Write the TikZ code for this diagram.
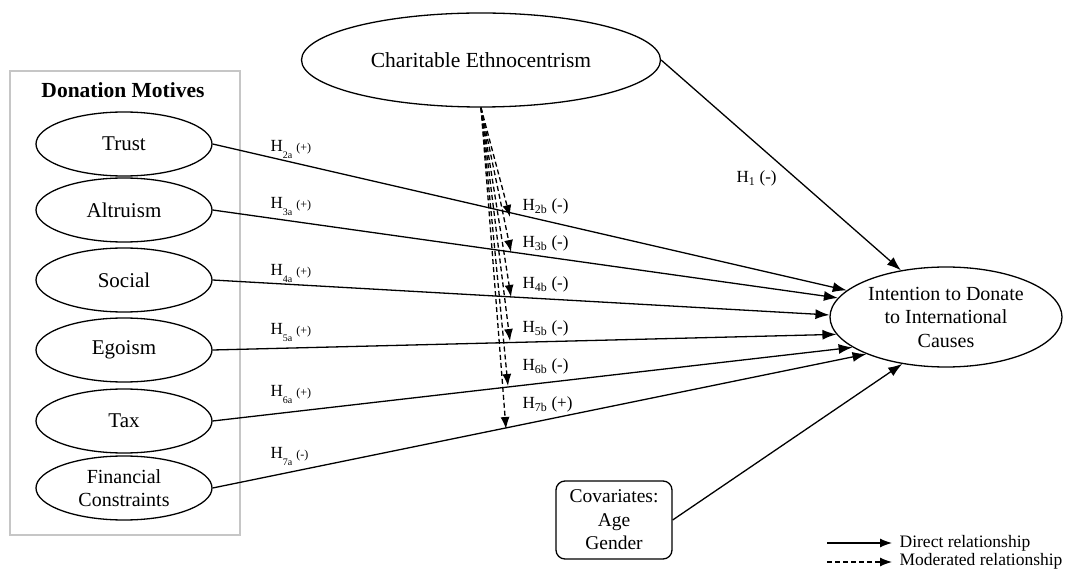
\documentclass[tikz,border=0pt]{standalone}
\usepackage{fontspec}
\setmainfont{Liberation Serif}
\usetikzlibrary{shapes.geometric,arrows.meta}

\newcommand\hypa[2]{H\raisebox{-7pt}{\fontsize{10}{10}\selectfont #1}\hspace{4pt}{\fontsize{12}{12}\selectfont (#2)}}
\newcommand\hypb[2]{H\textsubscript{#1} (#2)}

\begin{document}
\begin{tikzpicture}[x=1pt,y=-1pt,>={Latex[length=14pt,width=10pt]},line width=1.3pt,
  font=\fontsize{21}{24}\selectfont,
  motive/.style={draw,ellipse,minimum width=176pt,minimum height=64pt,inner sep=0pt},
  hyp/.style={anchor=base west,inner sep=0pt,font=\fontsize{17}{17}\selectfont},
  legend/.style={anchor=west,inner sep=0pt,font=\fontsize{17.5}{20}\selectfont}]

\useasboundingbox (0,0) rectangle (1069,569);

% donation motives
\draw[gray!45,line width=1.3pt] (10,71) rectangle (240,535);
\node[font=\fontsize{21.5}{24}\selectfont\bfseries] (title) at (123,90) {Donation Motives};

\node[motive] (trust) at (124,144) {Trust};
\node[motive] (altruism) at (124,210) {Altruism};
\node[motive] (social) at (124,280) {Social};
\node[motive] (egoism) at (124,350) {Egoism};
\node[motive] (tax) at (124,421) {Tax};
\node[motive,align=center,font=\fontsize{20}{23}\selectfont] (finance) at (124,488) {Financial\\Constraints};

\node[draw,ellipse,minimum width=359pt,minimum height=94pt,inner sep=0pt,font=\fontsize{21.5}{24}\selectfont] (ethno) at (481,60) {Charitable Ethnocentrism};
\node[draw,ellipse,minimum width=232pt,minimum height=100pt,inner sep=0pt,align=center,font=\fontsize{20}{23.5}\selectfont] (intent) at (946,317) {Intention to Donate\\to International\\Causes};
\node[draw,rounded corners=9pt,minimum width=116pt,minimum height=78pt,align=center,font=\fontsize{19.5}{23.5}\selectfont] (covar) at (614,520) {Covariates:\\Age\\Gender};

% direct paths
\draw[->] (ethno.east) -- (intent.134);
\draw[->] (trust.east) -- (intent.165);
\draw[->] (altruism.east) -- (intent.170);
\draw[->] (social.east) -- (intent.179.5);
\draw[->] (egoism.east) -- (intent.189);
\draw[->] (tax.east) -- (intent.198);
\draw[->] (finance.east) -- (intent.205.5);
\draw[->] (covar.east) -- (intent.227);

% moderated paths
\coordinate (m2) at (510,217);
\coordinate (m3) at (511,252);
\coordinate (m4) at (511,297);
\coordinate (m5) at (510,341);
\coordinate (m6) at (508,386);
\coordinate (m7) at (506,429);
\foreach \m in {m2,m3,m4,m5,m6,m7}
  \draw[->,>={Latex[length=12pt,width=9pt]},dash pattern=on 5pt off 3pt] (ethno.south) -- (\m);

% labels
\node[hyp] (h1) at (736,183) {\hypb{1}{-}};
\node[hyp] (h2a) at (270,152) {\hypa{2a}{+}};
\node[hyp] (h3a) at (270,209) {\hypa{3a}{+}};
\node[hyp] (h4a) at (270,276) {\hypa{4a}{+}};
\node[hyp] (h5a) at (270,335) {\hypa{5a}{+}};
\node[hyp] (h6a) at (270,396) {\hypa{6a}{+}};
\node[hyp] (h7a) at (270,458) {\hypa{7a}{-}};
\node[hyp] (h2b) at (522,211) {\hypb{2b}{-}};
\node[hyp] (h3b) at (522,248) {\hypb{3b}{-}};
\node[hyp] (h4b) at (522,289) {\hypb{4b}{-}};
\node[hyp] (h5b) at (522,333) {\hypb{5b}{-}};
\node[hyp] (h6b) at (522,371) {\hypb{6b}{-}};
\node[hyp] (h7b) at (522,409) {\hypb{7b}{+}};

% legend
\coordinate (d1) at (827,543);
\coordinate (d2) at (892,543);
\coordinate (e1) at (827,562);
\coordinate (e2) at (892,562);
\draw[->,line width=1.2pt,>={Latex[length=12pt,width=9pt]}] (d1) -- (d2);
\draw[->,line width=1.2pt,>={Latex[length=12pt,width=9pt]},dash pattern=on 5pt off 3pt] (e1) -- (e2);
\node[legend] (direct) at (899,543) {Direct relationship};
\node[legend] (moder) at (899,561) {Moderated relationship};

\end{tikzpicture}
\end{document}
